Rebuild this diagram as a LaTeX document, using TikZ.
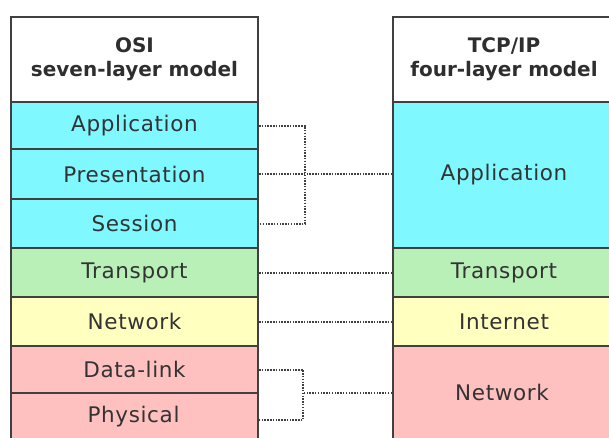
\documentclass[tikz,border=0pt]{standalone}
\usepackage{fontspec}
\setmainfont{DejaVu Sans}
\newfontfamily\bodyfont[LetterSpace=3]{DejaVu Sans}
\usetikzlibrary{calc}
\definecolor{cy}{HTML}{80F8FF}
\definecolor{gr}{HTML}{B8F0B8}
\definecolor{ye}{HTML}{FFFFC0}
\definecolor{pk}{HTML}{FFC0C0}
\definecolor{bd}{HTML}{404040}
\definecolor{tx}{HTML}{333333}
\tikzset{
  cell/.style={draw=bd, line width=2pt, rectangle, inner sep=0pt, anchor=north west,
    font=\bodyfont\fontsize{21.5}{24}\selectfont, text=tx},
  head/.style={cell, fill=white, font=\bfseries\fontsize{20}{24}\selectfont, align=center, text=black!82},
  conn/.style={draw=black!75, line width=2pt, dash pattern=on 1.5pt off 1.3pt},
}
\begin{document}
\begin{tikzpicture}[x=1pt,y=-1pt]
\useasboundingbox (0,0) rectangle (609,437);
\begin{scope}
\clip (0,0) rectangle (609,437);
% left column
\node[head, minimum width=247pt, minimum height=85pt] (lhead) at (10,16) {OSI\\seven-layer model};
\node[cell, fill=cy, minimum width=247pt, minimum height=47pt] (lapp) at (10,101) {Application};
\node[cell, fill=cy, minimum width=247pt, minimum height=50pt] (lpres) at (10,148) {Presentation};
\node[cell, fill=cy, minimum width=247pt, minimum height=49pt] (lses) at (10,198) {Session};
\node[cell, fill=gr, minimum width=247pt, minimum height=49pt] (ltrans) at (10,247) {Transport};
\node[cell, fill=ye, minimum width=247pt, minimum height=49pt] (lnet) at (10,296) {Network};
\node[cell, fill=pk, minimum width=247pt, minimum height=47pt] (ldl) at (10,345) {Data-link};
\node[cell, fill=pk, minimum width=247pt, minimum height=56pt] (lphys) at (10,392) {};
\node[font=\bodyfont\fontsize{21.5}{24}\selectfont, text=tx, inner sep=0pt] (lphyst) at (133.5,417) {Physical};
% right column
\node[head, minimum width=222pt, minimum height=85pt] (rhead) at (392,16) {TCP/IP\\four-layer model};
\node[cell, fill=cy, minimum width=222pt, minimum height=146pt] (rapp) at (392,101) {Application};
\node[cell, fill=gr, minimum width=222pt, minimum height=49pt] (rtrans) at (392,247) {Transport};
\node[cell, fill=ye, minimum width=222pt, minimum height=49pt] (rint) at (392,296) {Internet};
\node[cell, fill=pk, minimum width=222pt, minimum height=95pt] (rnet) at (392,345) {};
\node[font=\bodyfont\fontsize{21.5}{24}\selectfont, text=tx, inner sep=0pt] (rnett) at (502,392) {Network};
% connectors
\coordinate (b1) at ($(lses.east)+(46,0)$);
\draw[conn] (lapp.east) -| (b1) -- (lses.east);
\draw[conn] (lpres.east) -- (lpres.east -| rapp.west);
\draw[conn] (ltrans.east) -- (rtrans.west);
\draw[conn] (lnet.east) -- (rint.west);
\coordinate (b2) at (303,420);
\draw[conn] (ldl.east) -| (b2) -- (b2 -| lphys.east);
\draw[conn] (rnet.west |- 0,393) -- (303,393);
\end{scope}
\end{tikzpicture}
\end{document}
